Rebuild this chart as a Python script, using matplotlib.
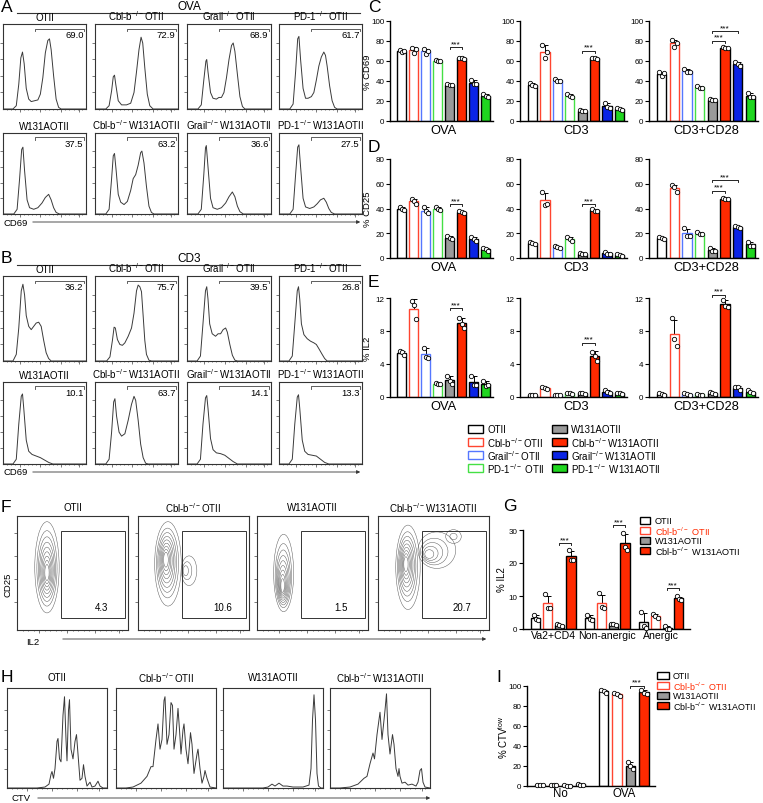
import numpy as np
import matplotlib.pyplot as plt
from matplotlib.patches import Rectangle, Ellipse

plt.rcParams['font.family'] = ['Liberation Sans', 'DejaVu Sans']
plt.rcParams['mathtext.fontset'] = 'custom'
plt.rcParams['mathtext.rm'] = 'Liberation Sans'
plt.rcParams['mathtext.default'] = 'regular'

W, H = 763, 804
KO = '$^{-/-}$'

# ---------------- data ----------------
strains8 = ['OTII', 'Cbl-b' + KO + 'OTII', 'Grail' + KO + 'OTII', 'PD-1' + KO + ' OTII',
            'W131AOTII', 'Cbl-b' + KO + 'W131AOTII', 'Grail' + KO + 'W131AOTII', 'PD-1' + KO + ' W131AOTII']
fills8 = ['white', 'white', 'white', 'white', '#9a9a9a', '#ff2a00', '#0a24e6', '#1fd61f']
edges8 = ['black', '#ff4530', '#5577ff', '#44e044', 'black', 'black', 'black', 'black']
stims = ['OVA', 'CD3', 'CD3+CD28']

# % CD69 (panel C), three mice per bar
cd69 = [
    [[71, 69, 70], [73, 68, 72], [72, 67, 70], [61, 60, 60], [37, 36, 36], [63, 63, 62], [41, 37, 37], [27, 25, 24]],
    [[38, 36, 35], [76, 63, 69], [42, 40, 40], [27, 25, 24], [11, 10, 10], [63, 63, 62], [18, 14, 13], [13, 12, 11]],
    [[49, 45, 48], [81, 74, 78], [52, 49, 49], [35, 33, 33], [22, 21, 21], [74, 73, 73], [59, 57, 55], [28, 24, 24]],
]
# % CD25 (panel D)
cd25 = [
    [[41, 40, 39], [48, 46, 44], [41, 38, 36], [41, 40, 39], [18, 16, 15], [38, 37, 36], [17, 15, 14], [8, 7, 6]],
    [[13, 12, 11], [53, 43, 44], [10, 9, 8], [17, 15, 14], [4, 3, 3], [40, 38, 38], [5, 3, 3], [3, 2.5, 2]],
    [[17, 16, 15], [59, 57, 53], [24, 18, 18], [21, 19, 19], [8, 6, 6], [48.5, 48, 47.5], [25.5, 25, 24.5], [13, 10, 10]],
]
# % IL2 (panel E)
il2 = [
    [[5.6, 5.4, 5.1], [11.6, 11.1, 9.4], [6.0, 4.8, 4.7], [1.7, 1.6, 1.6], [2.6, 2.0, 1.6], [9.6, 8.9, 8.4], [2.6, 1.5, 1.4], [2.0, 1.3, 1.4]],
    [[0.2, 0.2, 0.2], [1.2, 1.1, 1.0], [0.3, 0.3, 0.2], [0.5, 0.5, 0.4], [0.5, 0.5, 0.4], [5.5, 5.0, 4.4], [0.9, 0.6, 0.5], [0.5, 0.5, 0.4]],
    [[0.5, 0.4, 0.3], [9.6, 7.0, 6.2], [0.5, 0.4, 0.3], [0.4, 0.3, 0.3], [0.6, 0.5, 0.4], [11.8, 11.0, 10.9], [1.2, 1.2, 0.8], [0.8, 0.6, 0.5]],
]
# significance brackets: (first bar, second bar, level)
sig_c = [[(4, 5, 74)], [(4, 5, 70.5)], [(4, 5, 80.5), (4, 6, 90)]]
sig_d = [[(4, 5, 43.5)], [(4, 5, 43.5)], [(4, 5, 54.5), (4, 6, 63)]]
sig_e = [[(4, 5, 10.8)], [(4, 5, 6.6)], [(4, 5, 12.4)]]

strains4 = ['OTII', 'Cbl-b' + KO + ' OTII', 'W131AOTII', 'Cbl-b' + KO + ' W131AOTII']
fills4 = ['white', 'white', '#9a9a9a', '#ff2a00']
edges4 = ['black', '#ff4530', 'black', 'black']
text4 = ['black', '#ff2a00', 'black', 'black']

g_groups = ['Va2+CD4', 'Non-anergic', 'Anergic']
il2_g = [
    [[4.3, 3.0, 2.8], [10.5, 6.5, 6.5], [1.5, 1.2, 1.0], [24, 21, 21]],
    [[4.3, 3.0, 2.8], [10.8, 6.6, 6.3], [1.6, 1.4, 1.2], [29, 25, 24]],
    [[5.3, 1.0, 0.3], [4.6, 4.0, 3.3], [0.9, 0.1, 0.0], [9.9, 9.0, 8.9]],
]
sig_g = [(0, 26), (1, 31.5), (2, 12.4)]

i_groups = ['No', 'OVA']
ctv_low = [
    [[1.2, 1.0, 0.8], [0.9, 0.8, 0.7], [0.7, 0.5, 0.4], [2.5, 1.3, 1.0]],
    [[96, 95, 93], [93, 92, 90], [24, 20, 17], [96, 93, 92]],
]
sig_i = [(1, 100.5)]

# histogram traces (fraction of box width, fraction of box height)
hist_a = [
    [(0, 0), (0.12, 0), (0.16, 0.04), (0.19, 0.3), (0.215, 0.62), (0.235, 0.69), (0.255, 0.55), (0.28, 0.25), (0.31, 0.12),
     (0.34, 0.09), (0.38, 0.10), (0.42, 0.11), (0.45, 0.18), (0.48, 0.38), (0.51, 0.68), (0.54, 0.83), (0.56, 0.85),
     (0.58, 0.72), (0.61, 0.4), (0.64, 0.12), (0.67, 0.02), (0.70, 0), (1, 0)],
    [(0, 0), (0.13, 0), (0.17, 0.04), (0.20, 0.22), (0.22, 0.39), (0.235, 0.41), (0.25, 0.3), (0.28, 0.1), (0.32, 0.05),
     (0.38, 0.05), (0.43, 0.07), (0.47, 0.2), (0.50, 0.45), (0.53, 0.72), (0.555, 0.87), (0.575, 0.8), (0.60, 0.5),
     (0.63, 0.18), (0.66, 0.04), (0.70, 0), (1, 0)],
    [(0, 0), (0.13, 0), (0.17, 0.05), (0.20, 0.35), (0.225, 0.58), (0.235, 0.6), (0.25, 0.45), (0.28, 0.2), (0.31, 0.13),
     (0.35, 0.12), (0.38, 0.14), (0.41, 0.14), (0.44, 0.2), (0.47, 0.38), (0.50, 0.6), (0.53, 0.77), (0.55, 0.8),
     (0.57, 0.7), (0.60, 0.42), (0.63, 0.15), (0.66, 0.03), (0.69, 0), (1, 0)],
    [(0, 0), (0.13, 0), (0.17, 0.06), (0.20, 0.45), (0.225, 0.85), (0.24, 0.88), (0.26, 0.6), (0.29, 0.25), (0.32, 0.13),
     (0.35, 0.13), (0.39, 0.15), (0.42, 0.2), (0.45, 0.35), (0.48, 0.52), (0.51, 0.63), (0.54, 0.69), (0.56, 0.65),
     (0.58, 0.52), (0.61, 0.28), (0.64, 0.1), (0.67, 0.02), (0.70, 0), (1, 0)],
    [(0, 0), (0.13, 0), (0.17, 0.06), (0.20, 0.45), (0.225, 0.82), (0.24, 0.85), (0.26, 0.55), (0.29, 0.18), (0.32, 0.08),
     (0.37, 0.06), (0.42, 0.08), (0.47, 0.14), (0.51, 0.21), (0.55, 0.25), (0.58, 0.18), (0.61, 0.08), (0.64, 0.02),
     (0.68, 0), (1, 0)],
    [(0, 0), (0.13, 0), (0.17, 0.06), (0.20, 0.45), (0.22, 0.74), (0.235, 0.77), (0.255, 0.55), (0.28, 0.25), (0.31, 0.15),
     (0.35, 0.12), (0.39, 0.16), (0.43, 0.3), (0.46, 0.45), (0.49, 0.5), (0.52, 0.62), (0.55, 0.78), (0.565, 0.80),
     (0.59, 0.65), (0.62, 0.35), (0.65, 0.1), (0.68, 0.02), (0.71, 0), (1, 0)],
    [(0, 0), (0.13, 0), (0.17, 0.06), (0.20, 0.5), (0.22, 0.84), (0.23, 0.87), (0.25, 0.6), (0.28, 0.2), (0.31, 0.08),
     (0.36, 0.06), (0.41, 0.08), (0.46, 0.14), (0.50, 0.22), (0.54, 0.28), (0.57, 0.22), (0.60, 0.1), (0.63, 0.03),
     (0.67, 0), (1, 0)],
    [(0, 0), (0.13, 0), (0.17, 0.06), (0.20, 0.5), (0.225, 0.85), (0.24, 0.88), (0.26, 0.6), (0.29, 0.2), (0.32, 0.09),
     (0.37, 0.07), (0.42, 0.09), (0.46, 0.13), (0.50, 0.18), (0.54, 0.2), (0.57, 0.15), (0.60, 0.07), (0.63, 0.02),
     (0.67, 0), (1, 0)],
]
gates_a = ['69.0', '72.9', '68.9', '61.7', '37.5', '63.2', '36.6', '27.5']

hist_b = [
    [(0, 0), (0.12, 0), (0.16, 0.08), (0.19, 0.4), (0.22, 0.85), (0.24, 0.93), (0.26, 0.8), (0.28, 0.55), (0.31, 0.42),
     (0.34, 0.38), (0.37, 0.42), (0.40, 0.46), (0.43, 0.47), (0.46, 0.42), (0.49, 0.25), (0.52, 0.1), (0.55, 0.03),
     (0.58, 0), (1, 0)],
    [(0, 0), (0.14, 0), (0.18, 0.05), (0.21, 0.25), (0.23, 0.41), (0.245, 0.4), (0.27, 0.26), (0.30, 0.2), (0.33, 0.19),
     (0.36, 0.22), (0.40, 0.3), (0.44, 0.4), (0.47, 0.58), (0.50, 0.85), (0.52, 0.92), (0.54, 0.9), (0.56, 0.84),
     (0.58, 0.55), (0.60, 0.25), (0.62, 0.08), (0.65, 0.01), (0.68, 0), (1, 0)],
    [(0, 0), (0.12, 0), (0.16, 0.06), (0.19, 0.45), (0.22, 0.85), (0.235, 0.9), (0.25, 0.75), (0.27, 0.45), (0.30, 0.33),
     (0.34, 0.3), (0.37, 0.33), (0.40, 0.33), (0.43, 0.38), (0.46, 0.4), (0.48, 0.35), (0.51, 0.2), (0.54, 0.07),
     (0.57, 0.01), (0.60, 0), (1, 0)],
    [(0, 0), (0.12, 0), (0.16, 0.06), (0.19, 0.45), (0.22, 0.85), (0.235, 0.9), (0.25, 0.75), (0.27, 0.45), (0.30, 0.32),
     (0.34, 0.27), (0.38, 0.24), (0.42, 0.22), (0.45, 0.2), (0.48, 0.15), (0.52, 0.08), (0.55, 0.03), (0.58, 0), (1, 0)],
    [(0, 0), (0.12, 0), (0.16, 0.06), (0.19, 0.5), (0.22, 0.85), (0.235, 0.88), (0.25, 0.7), (0.28, 0.3), (0.31, 0.16),
     (0.35, 0.12), (0.40, 0.1), (0.45, 0.08), (0.50, 0.05), (0.55, 0.02), (0.60, 0), (1, 0)],
    [(0, 0), (0.13, 0), (0.17, 0.06), (0.20, 0.4), (0.225, 0.78), (0.24, 0.82), (0.26, 0.6), (0.29, 0.4), (0.32, 0.35),
     (0.36, 0.38), (0.40, 0.55), (0.44, 0.75), (0.47, 0.85), (0.49, 0.8), (0.52, 0.55), (0.55, 0.25), (0.58, 0.08),
     (0.61, 0.01), (0.64, 0), (1, 0)],
    [(0, 0), (0.12, 0), (0.16, 0.06), (0.19, 0.5), (0.22, 0.83), (0.235, 0.86), (0.25, 0.7), (0.28, 0.32), (0.31, 0.18),
     (0.35, 0.14), (0.40, 0.13), (0.45, 0.11), (0.50, 0.07), (0.55, 0.03), (0.60, 0), (1, 0)],
    [(0, 0), (0.12, 0), (0.16, 0.06), (0.19, 0.5), (0.22, 0.84), (0.235, 0.87), (0.25, 0.7), (0.28, 0.3), (0.31, 0.16),
     (0.35, 0.12), (0.40, 0.11), (0.45, 0.1), (0.50, 0.06), (0.55, 0.02), (0.60, 0), (1, 0)],
]
gates_b = ['36.2', '75.7', '39.5', '26.8', '10.1', '63.7', '14.1', '13.3']

hist_h = [
    [(0, 0), (0.3, 0), (0.38, 0.01), (0.42, 0.04), (0.44, 0.14), (0.45, 0.17), (0.465, 0.1), (0.48, 0.2), (0.50, 0.48),
     (0.51, 0.51), (0.525, 0.3), (0.54, 0.27), (0.56, 0.75), (0.575, 0.94), (0.59, 0.5), (0.60, 0.28), (0.615, 0.8),
     (0.625, 0.91), (0.64, 0.4), (0.66, 0.3), (0.68, 0.48), (0.695, 0.55), (0.71, 0.35), (0.73, 0.08), (0.75, 0.1),
     (0.765, 0.24), (0.78, 0.12), (0.80, 0.02), (0.83, 0.06), (0.85, 0.01), (0.88, 0.02), (0.91, 0.07), (0.93, 0.02),
     (0.96, 0), (1, 0)],
    [(0, 0), (0.1, 0), (0.17, 0.01), (0.25, 0.05), (0.31, 0.12), (0.35, 0.22), (0.37, 0.22), (0.40, 0.5), (0.42, 0.66),
     (0.44, 0.4), (0.46, 0.5), (0.48, 0.9), (0.49, 0.94), (0.51, 0.45), (0.53, 0.55), (0.55, 0.88), (0.565, 0.85),
     (0.58, 0.4), (0.60, 0.55), (0.62, 0.82), (0.635, 0.6), (0.65, 0.35), (0.67, 0.6), (0.68, 0.66), (0.70, 0.4),
     (0.72, 0.25), (0.745, 0.57), (0.76, 0.45), (0.78, 0.15), (0.81, 0.35), (0.82, 0.40), (0.84, 0.2), (0.86, 0.05),
     (0.88, 0.12), (0.89, 0.18), (0.91, 0.1), (0.94, 0.01), (1, 0)],
    [(0, 0), (0.40, 0), (0.45, 0.01), (0.49, 0.04), (0.52, 0.02), (0.56, 0.05), (0.60, 0.02), (0.64, 0.02), (0.70, 0.01),
     (0.80, 0.01), (0.86, 0.03), (0.88, 0.2), (0.895, 0.7), (0.91, 0.96), (0.925, 0.7), (0.94, 0.15), (0.955, 0.02),
     (0.98, 0), (1, 0)],
    [(0, 0), (0.1, 0), (0.2, 0.01), (0.28, 0.04), (0.34, 0.1), (0.37, 0.12), (0.40, 0.25), (0.43, 0.36), (0.445, 0.3),
     (0.47, 0.55), (0.50, 0.78), (0.52, 0.5), (0.55, 0.8), (0.565, 0.97), (0.58, 0.55), (0.60, 0.35), (0.625, 0.55),
     (0.64, 0.45), (0.66, 0.2), (0.68, 0.12), (0.69, 0.2), (0.70, 0.12), (0.72, 0.05), (0.75, 0.06), (0.78, 0.03),
     (0.82, 0.04), (0.86, 0.02), (0.88, 0.06), (0.90, 0.18), (0.915, 0.2), (0.93, 0.06), (0.95, 0.01), (1, 0)],
]

# contour populations for panel F:
# (outer centre x, outer centre y, core centre x, core centre y, half width, half height, rings)
pops_f = [
    [(0.27, 0.55, 0.27, 0.50, 0.11, 0.40, 9)],
    [(0.27, 0.58, 0.25, 0.62, 0.12, 0.37, 9), (0.46, 0.52, 0.42, 0.52, 0.07, 0.13, 3)],
    [(0.24, 0.50, 0.23, 0.38, 0.09, 0.34, 9)],
    [(0.27, 0.55, 0.25, 0.58, 0.11, 0.37, 9), (0.53, 0.70, 0.45, 0.66, 0.17, 0.16, 5), (0.68, 0.82, 0.68, 0.82, 0.07, 0.06, 2)],
]
gates_f = ['4.3', '10.6', '1.5', '20.7']
titles_fh = ['OTII', 'Cbl-b' + KO + 'OTII', 'W131AOTII', 'Cbl-b' + KO + 'W131AOTII']

# ---------------- helpers ----------------
fig = plt.figure(figsize=(W / 100, H / 100), dpi=100)


def box(x0, y0, x1, y1):
    return fig.add_axes([x0 / W, 1 - y1 / H, (x1 - x0) / W, (y1 - y0) / H])


ov = fig.add_axes([0, 0, 1, 1], zorder=10)
ov.set_xlim(0, W)
ov.set_ylim(H, 0)
ov.axis('off')
ov.patch.set_alpha(0)


def flow_frame(ax):
    for s in ax.spines.values():
        s.set_linewidth(0.8)
        s.set_color('#333333')
    ax.set_xlim(0, 1)
    ax.set_ylim(0, 1.03)
    ax.set_xticks([0.2, 0.45, 0.7, 0.92])
    ax.set_xticks(np.arange(0.05, 1.0, 0.05), minor=True)
    ax.set_yticks([0.2, 0.4, 0.6, 0.8])
    ax.tick_params(which='both', labelbottom=False, labelleft=False, length=2, width=0.5, color='#444444')
    ax.tick_params(which='minor', length=1)
    ax.tick_params(axis='y', which='minor', left=False)


def hist_panel(rect, verts, num, title):
    ax = box(*rect)
    xs, ys = zip(*verts)
    ax.plot(xs, ys, color='#3a3a3a', lw=0.7)
    flow_frame(ax)
    ax.plot([0.38, 0.38, 0.98, 0.98], [0.94, 0.975, 0.975, 0.94], color='#444444', lw=0.6)
    ax.text(0.97, 0.93, num, transform=ax.transAxes, ha='right', va='top', fontsize=6.8)
    ov.text((rect[0] + rect[2]) / 2, rect[1] - 2, title, ha='center', va='bottom', fontsize=7)


def draw_bars(ax, xs, pts, fills, edges, width):
    offs = np.array([-0.2, 0.0, 0.2])
    for x, p, fc, ec in zip(xs, pts, fills, edges):
        p = np.array(p, float)
        m = p.mean()
        sd = p.std(ddof=1)
        ax.errorbar(x, m, yerr=sd, fmt='none', ecolor='black', elinewidth=0.7, capsize=2.3, capthick=0.7, zorder=1)
        ax.bar(x, m, width, color=fc, edgecolor=ec, linewidth=1.0, zorder=2)
        ax.scatter(x + offs, p, s=10, facecolor='white', edgecolor='black', linewidths=0.6, zorder=4, clip_on=False)


def style_bar_ax(ax, xlim, ylim, yticks):
    ax.set_xlim(xlim)
    ax.set_ylim(ylim)
    ax.set_yticks(yticks)
    for s in ['top', 'right']:
        ax.spines[s].set_visible(False)
    ax.spines['left'].set_linewidth(1.0)
    ax.spines['bottom'].set_linewidth(1.0)
    ax.tick_params(axis='y', length=3, width=0.8, labelsize=5.8, pad=1)
    ax.tick_params(axis='x', length=0, labelsize=9.3, pad=2)
    ax.patch.set_alpha(0)


def sig(ax, x1, x2, y, h):
    ax.plot([x1, x1, x2, x2], [y - h, y, y, y - h], color='black', lw=0.6, clip_on=False)
    ax.text((x1 + x2) / 2, y, '***', ha='center', va='bottom', fontsize=6, clip_on=False)


def panel_letter(x, y, s):
    ov.text(x, y, s, ha='left', va='center', fontsize=12.5)


# ---------------- panels A and B ----------------
cols_ab = [(3, 86), (95, 178), (187, 271), (279, 362)]
row_titles_top = ['OTII', 'Cbl-b' + KO + 'OTII', 'Grail' + KO + 'OTII', 'PD-1' + KO + 'OTII']
row_titles_bot = ['W131AOTII', 'Cbl-b' + KO + 'W131AOTII', 'Grail' + KO + 'W131AOTII', 'PD-1' + KO + 'W131AOTII']

for hists, nums, rows, head, head_y, arrow_y, letter_y in [
        (hist_a, gates_a, [(25, 110), (134, 215)], 'OVA', 7, 223, 8),
        (hist_b, gates_b, [(277, 362), (383, 465)], 'CD3', 259, 473, 259)]:
    panel_letter(1, letter_y, 'A' if head == 'OVA' else 'B')
    ov.text(189, head_y, head, ha='center', va='center', fontsize=8.5)
    ov.plot([17, 360], [head_y + 6.5, head_y + 6.5], color='#333333', lw=0.8)
    for r, (y0, y1) in enumerate(rows):
        titles = row_titles_top if r == 0 else row_titles_bot
        for c, (x0, x1) in enumerate(cols_ab):
            k = r * 4 + c
            hist_panel((x0, y0, x1, y1), hists[k], nums[k], titles[c])
    ov.text(3, arrow_y, 'CD69', ha='left', va='center', fontsize=6.8)
    ov.annotate('', xy=(363, arrow_y), xytext=(30, arrow_y),
                arrowprops=dict(arrowstyle='-|>', lw=0.6, color='#333333', mutation_scale=5))

# ---------------- panels C, D, E ----------------
bar_cols = [(390, 493), (520, 627), (649, 758)]
xs8 = np.arange(8)
xlim8 = (-1.0, 7.6)
for data, sigs, (y0, y1), ylim, yticks, ylab, letter, ly in [
        (cd69, sig_c, (22, 122), (0, 100), [0, 20, 40, 60, 80, 100], '% CD69', 'C', 7),
        (cd25, sig_d, (160, 259), (0, 80), [0, 20, 40, 60, 80], '% CD25', 'D', 147),
        (il2, sig_e, (299, 398), (0, 12), [0, 4, 8, 12], '% IL2', 'E', 283)]:
    panel_letter(368, ly, letter)
    ov.text(368, (y0 + y1) / 2, ylab, rotation=90, ha='center', va='center', fontsize=6.8)
    for j, (x0, x1) in enumerate(bar_cols):
        ax = box(x0, y0, x1, y1)
        draw_bars(ax, xs8, data[j], fills8, edges8, 0.75)
        style_bar_ax(ax, xlim8, ylim, yticks)
        ax.set_xticks([3.5])
        ax.set_xticklabels([stims[j]])
        for a, b, lev in sigs[j]:
            sig(ax, a, b, lev, (ylim[1] - ylim[0]) * 0.02)

# legend for C-E
for i in range(8):
    col, row = divmod(i, 4)
    px = 468 if col == 0 else 552
    py = [426, 439, 452, 465][row]
    ov.add_patch(Rectangle((px, py), 15, 7.5, facecolor=fills8[i], edgecolor=edges8[i], lw=1.0))
    ov.text(px + 19, py + 4, strains8[i], ha='left', va='center', fontsize=7.0)

# ---------------- panel F ----------------
panel_letter(1, 508, 'F')
cols_f = [(17, 128), (138, 249), (257, 368), (378, 489)]
for k, (x0, x1) in enumerate(cols_f):
    ax = box(x0, 517, x1, 631)
    for ox, oy, ix, iy, rx, ry, n in pops_f[k]:
        for r in range(n):
            t = (r / n) ** 0.75
            s = 1.0 - 0.9 * t
            cx = ox + (ix - ox) * t
            cy = oy + (iy - oy) * t
            ax.add_patch(Ellipse((cx, cy), 2 * rx * s, 2 * ry * s, fill=False, edgecolor='#5a5a5a', lw=0.35,
                                 transform=ax.transAxes))
    flow_frame(ax)
    ax.set_ylim(0, 1)
    ax.set_yticks([0.25, 0.45, 0.65, 0.85])
    ax.add_patch(Rectangle((0.40, 0.105), 0.57, 0.765, fill=False, edgecolor='#333333', lw=0.7,
                           transform=ax.transAxes))
    ax.text(0.76, 0.2, gates_f[k], transform=ax.transAxes, ha='center', va='center', fontsize=7)
    ov.text((x0 + x1) / 2, 508, titles_fh[k], ha='center', va='center', fontsize=7)
ov.text(8, 585, 'CD25', rotation=90, ha='center', va='center', fontsize=6.8)
ov.text(26, 643, 'IL2', ha='left', va='center', fontsize=6.8)
ov.annotate('', xy=(489, 640), xytext=(60, 640),
            arrowprops=dict(arrowstyle='-|>', lw=0.6, color='#333333', mutation_scale=5))

# ---------------- panel H ----------------
panel_letter(1, 678, 'H')
cols_h = [(7, 107), (116, 216), (223, 323), (330, 430)]
for k, (x0, x1) in enumerate(cols_h):
    ax = box(x0, 689, x1, 789)
    xs, ys = zip(*hist_h[k])
    ax.plot(xs, ys, color='#3a3a3a', lw=0.7)
    flow_frame(ax)
    ov.text((x0 + x1) / 2, 678, titles_fh[k], ha='center', va='center', fontsize=7)
ov.text(12, 799, 'CTV', ha='left', va='center', fontsize=6.8)
ov.annotate('', xy=(433, 799), xytext=(35, 799),
            arrowprops=dict(arrowstyle='-|>', lw=0.6, color='#333333', mutation_scale=5))

# ---------------- panel G ----------------
panel_letter(503, 507, 'G')
axg = box(523, 531, 690, 630)
for g, grp in enumerate(il2_g):
    xs = np.arange(4) + g * 4.6
    draw_bars(axg, xs, grp, fills4, edges4, 0.78)
style_bar_ax(axg, (-1.1, 13.15), (0, 30), [0, 10, 20, 30])
axg.set_xticks([1.5 + g * 4.6 for g in range(3)])
axg.set_xticklabels(g_groups)
axg.tick_params(axis='x', labelsize=7.6, pad=1)
for g, lev in sig_g:
    sig(axg, 2 + g * 4.6, 3 + g * 4.6, lev, 0.6)
ov.text(502, 580, '% IL2', rotation=90, ha='center', va='center', fontsize=7)
for i in range(4):
    py = [518, 528, 538, 548][i]
    ov.add_patch(Rectangle((640, py), 10, 7, facecolor=fills4[i], edgecolor=edges4[i], lw=1.0))
    ov.text(655, py + 3.5, strains4[i], ha='left', va='center', fontsize=6.6, color=text4[i])

# ---------------- panel I ----------------
panel_letter(496, 678, 'I')
axi = box(527, 687, 655, 787)
for g, grp in enumerate(ctv_low):
    xs = np.arange(4) + g * 4.73
    draw_bars(axi, xs, grp, fills4, edges4, 0.72)
style_bar_ax(axi, (-0.98, 8.56), (0, 100), [0, 20, 40, 60, 80, 100])
axi.set_xticks([1.5 + g * 4.73 for g in range(2)])
axi.set_xticklabels(i_groups)
axi.tick_params(axis='x', labelsize=8.3, pad=1)
for g, lev in sig_i:
    sig(axi, 2 + g * 4.73, 3 + g * 4.73, lev, 2)
ov.text(503, 737, '% CTV$^{low}$', rotation=90, ha='center', va='center', fontsize=7)
for i in range(4):
    py = [673, 683, 693, 703][i]
    ov.add_patch(Rectangle((657, py), 12, 7, facecolor=fills4[i], edgecolor=edges4[i], lw=1.0))
    ov.text(673, py + 3.5, strains4[i], ha='left', va='center', fontsize=6.4, color=text4[i])

fig.savefig('out.png', dpi=100)
